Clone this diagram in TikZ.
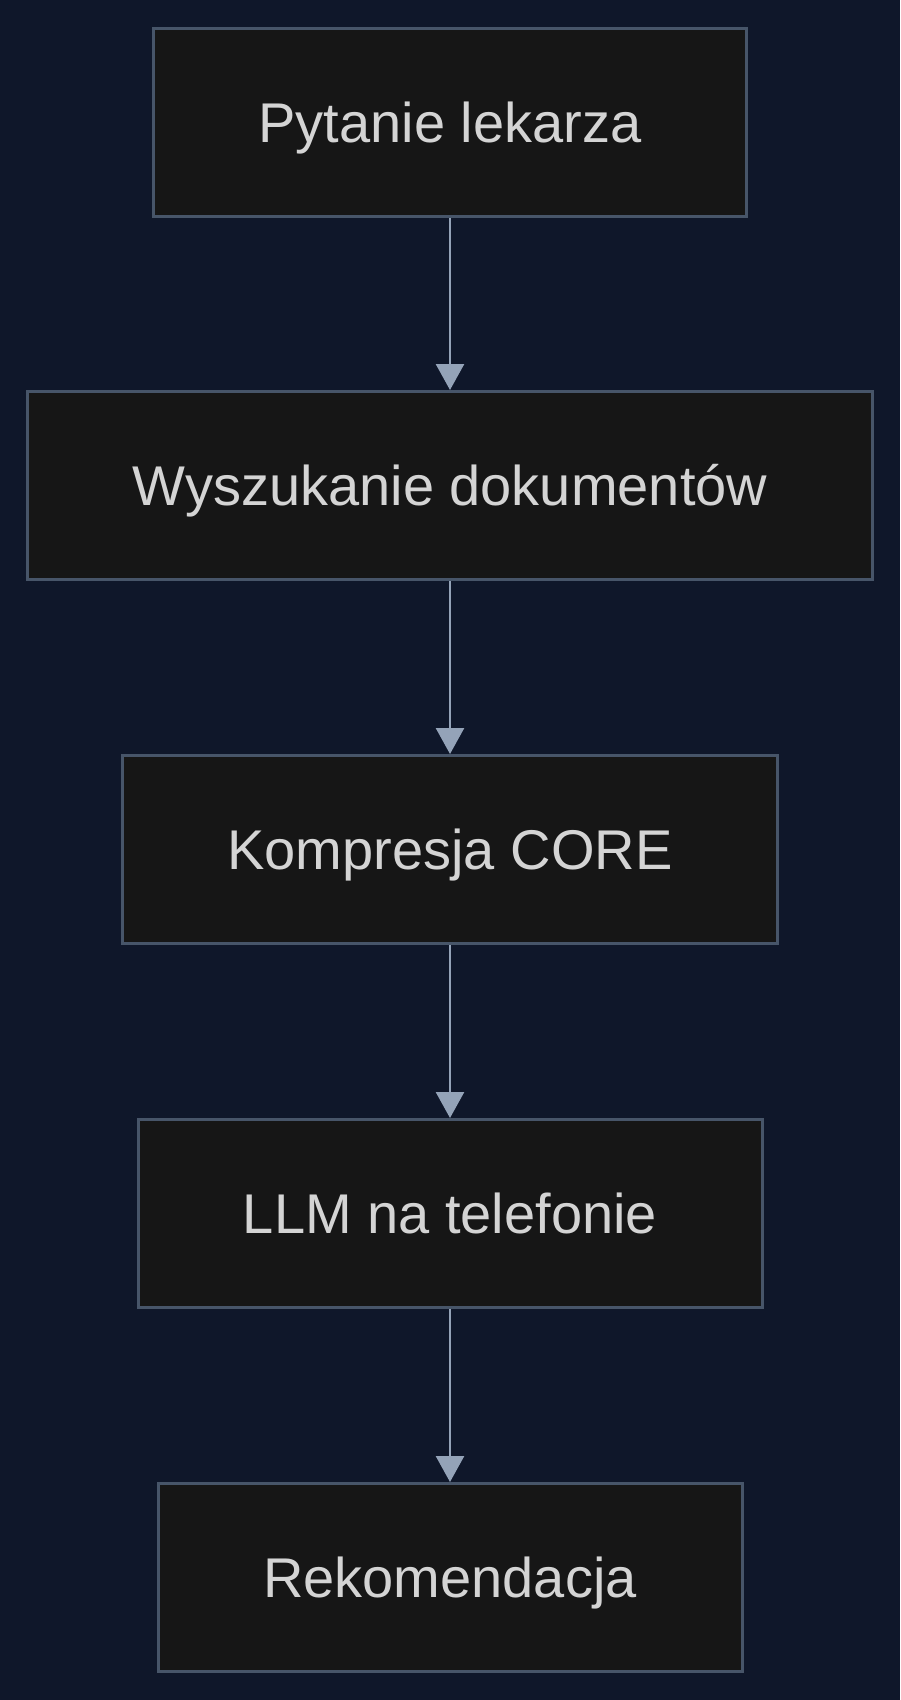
\documentclass[tikz,border=0pt]{standalone}
\usepackage{fontspec}
\setmainfont{Liberation Sans}
\usetikzlibrary{arrows.meta}
\definecolor{bg}{HTML}{0F172A}
\definecolor{boxfill}{HTML}{161616}
\definecolor{boxline}{HTML}{475569}
\definecolor{arrowc}{HTML}{94A3B8}
\definecolor{txt}{HTML}{D4D4D4}
\begin{document}
\begin{tikzpicture}[x=1pt,y=-1pt,
  stepbox/.style={draw=boxline, fill=boxfill, line width=3pt, rectangle, inner sep=0pt,
    text=txt, font=\fontsize{56}{67}\selectfont, minimum height=188pt,
    text height=40pt, text depth=0pt},
  flow/.style={draw=arrowc, line width=2.6pt, -{Triangle[width=28pt,length=26pt]}, shorten >=0pt}]
\fill[bg] (0,0) rectangle (900,1700);
\useasboundingbox (0,0) rectangle (900,1700);
\node[stepbox, minimum width=593pt] (a) at (450,122) {Pytanie lekarza};
\node[stepbox, minimum width=845pt] (b) at (450,485.5) {Wyszukanie dokumentów};
\node[stepbox, minimum width=655pt] (c) at (450,849.5) {Kompresja CORE};
\node[stepbox, minimum width=624pt] (d) at (450,1213.5) {LLM na telefonie};
\node[stepbox, minimum width=584pt] (e) at (450,1577.5) {Rekomendacja};
\draw[flow] (a) -- (b);
\draw[flow] (b) -- (c);
\draw[flow] (c) -- (d);
\draw[flow] (d) -- (e);
\end{tikzpicture}
\end{document}
